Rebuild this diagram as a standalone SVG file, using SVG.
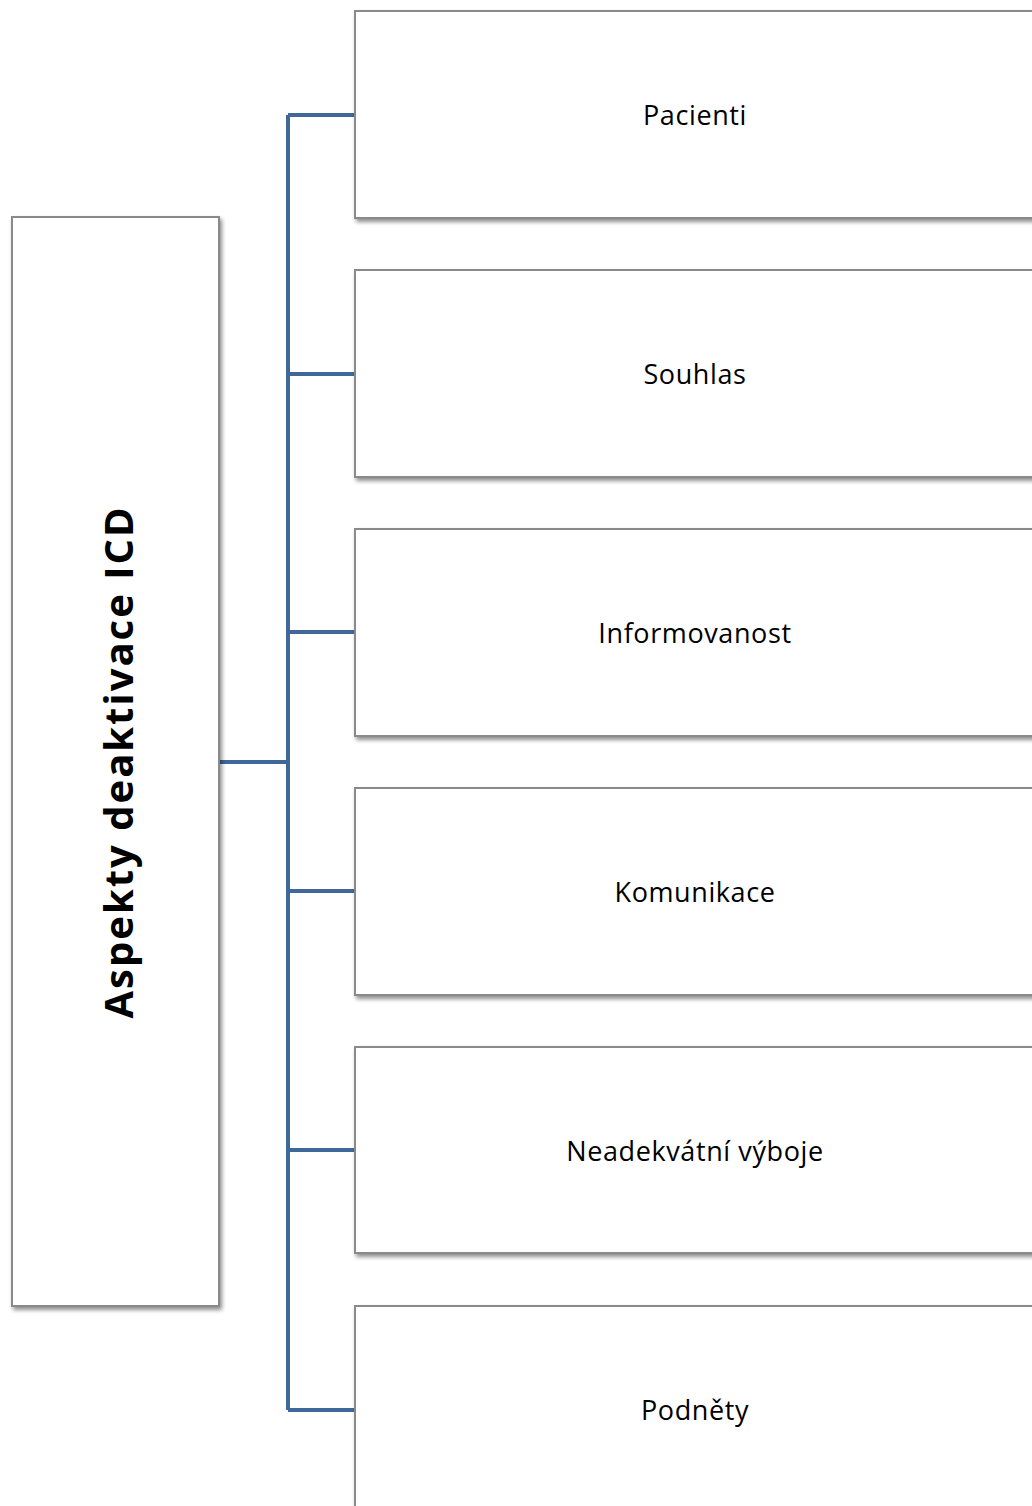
<svg xmlns="http://www.w3.org/2000/svg" width="1032" height="1506" viewBox="0 0 1032 1506">
<defs>
<filter id="sh" x="-5%" y="-5%" width="115%" height="115%">
<feGaussianBlur in="SourceAlpha" stdDeviation="2"/>
<feOffset dx="2" dy="3" result="b"/>
<feComponentTransfer><feFuncA type="linear" slope="0.45"/></feComponentTransfer>
<feMerge><feMergeNode/><feMergeNode in="SourceGraphic"/></feMerge>
</filter>
</defs>
<style>
.box{fill:#ffffff;stroke:#8a8a8a;stroke-width:2;filter:url(#sh)}
.lbl{font-family:"Open Sans","Noto Sans",sans-serif;font-size:27px;letter-spacing:0.6px;fill:#000;text-anchor:middle;dominant-baseline:central}
.ttl{font-family:"Open Sans","Noto Sans",sans-serif;font-size:40px;letter-spacing:2px;font-weight:bold;fill:#000;text-anchor:middle;dominant-baseline:central}
.con{fill:none;stroke:#3F6797;stroke-width:4}
</style>
<rect width="1032" height="1506" fill="#ffffff"/>
<g id="connectors">
<path class="con" d="M219 762H288M288 115V1410M288 115H355M288 374H355M288 632H355M288 891H355M288 1150H355M288 1410H355"/>
</g>
<g id="root">
<rect class="box" x="12" y="217" width="207" height="1089"/>
<text class="ttl" transform="translate(117 762) rotate(-90)">Aspekty deaktivace ICD</text>
</g>
<g id="n1"><rect class="box" x="355" y="11" width="700" height="207"/><text class="lbl" x="695" y="114">Pacienti</text></g>
<g id="n2"><rect class="box" x="355" y="270" width="700" height="207"/><text class="lbl" x="695" y="373">Souhlas</text></g>
<g id="n3"><rect class="box" x="355" y="529" width="700" height="207"/><text class="lbl" x="695" y="632">Informovanost</text></g>
<g id="n4"><rect class="box" x="355" y="788" width="700" height="207"/><text class="lbl" x="695" y="891">Komunikace</text></g>
<g id="n5"><rect class="box" x="355" y="1047" width="700" height="206"/><text class="lbl" x="695" y="1150">Neadekvátní výboje</text></g>
<g id="n6"><rect class="box" x="355" y="1306" width="700" height="207"/><text class="lbl" x="695" y="1409">Podněty</text></g>
</svg>
